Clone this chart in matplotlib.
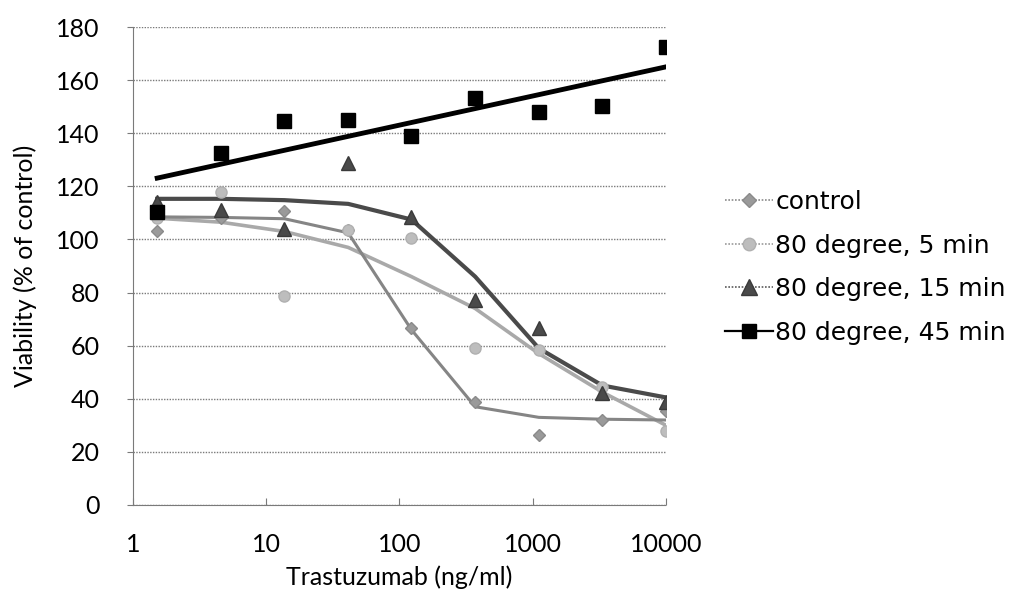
import matplotlib.pyplot as plt
import numpy as np

# concentrations (ng/ml), 3-fold dilutions
conc = [1.52, 4.57, 13.7, 41.2, 123, 370, 1111, 3333, 10000]

# measured viability (% of control)
control = [103, 108, 110.7, 103.5, 66.7, 38.8, 26.4, 32.0, 35.5]
deg80_5 = [108, 118, 78.7, 103.6, 100.5, 59.0, 58.4, 44.5, 28.0]
deg80_15 = [114, 111, 103.8, 128.8, 108.5, 77.2, 66.7, 42.2, 38.8]
deg80_45 = [110.4, 132.5, 144.7, 145.0, 139.0, 153.3, 148.0, 150.3, 172.5]

# fitted curves
fit_control = [108.5, 108.3, 107.8, 102.5, 66.0, 37.0, 33.0, 32.3, 32.0]
fit_5 = [108, 106.5, 103, 97, 86, 74, 57, 42.5, 30]
fit_15 = [115.3, 115.3, 114.8, 113.4, 107.5, 86, 59, 45, 40.5]
fit_45_x = [1.52, 10000]
fit_45 = [123.1, 165.0]

plt.rcParams['font.family'] = ['Lato', 'DejaVu Sans']

fig = plt.figure(figsize=(10.26, 5.9), dpi=100)
ax = fig.add_axes([0.1296, 0.1441, 0.5195, 0.8101])

ax.set_xscale('log')
ax.set_xlim(1, 10000)
ax.set_ylim(0, 180)

# grid
ax.set_yticks(np.arange(0, 181, 20))
ax.grid(axis='y', color='#7a7a7a', linestyle=(0, (1, 1)), linewidth=1.0)
ax.set_axisbelow(True)

# fitted lines
ax.plot(conc, fit_5, color='#a9a9a9', lw=2.6, zorder=2)
ax.plot(conc, fit_control, color='#858585', lw=2.2, zorder=2)
ax.plot(conc, fit_15, color='#4a4a4a', lw=3.0, zorder=2)
ax.plot(fit_45_x, fit_45, color='black', lw=3.5, zorder=2)

# data markers
ax.plot(conc, control, ls='none', marker='D', ms=6.5, color='#9a9a9a',
        mec='#8a8a8a', zorder=3)
ax.plot(conc, deg80_5, ls='none', marker='o', ms=8, color='#bdbdbd',
        mec='#b0b0b0', zorder=3)
ax.plot(conc, deg80_15, ls='none', marker='^', ms=9.5, color='#4a4a4a',
        mec='#3a3a3a', zorder=4)
ax.plot(conc, deg80_45, ls='none', marker='s', ms=9.5, color='black', zorder=4)

# legend handles
h1, = ax.plot([], [], color='#8a8a8a', ls=(0, (1, 1)), lw=1.2, marker='D',
              ms=7, mfc='#9a9a9a', mec='#8a8a8a')
h2, = ax.plot([], [], color='#9a9a9a', ls=(0, (1, 1)), lw=1.2, marker='o',
              ms=9, mfc='#bdbdbd', mec='#b0b0b0')
h3, = ax.plot([], [], color='#5a5a5a', ls=(0, (1, 1)), lw=1.2, marker='^',
              ms=11, mfc='#4a4a4a', mec='#3a3a3a')
h4, = ax.plot([], [], color='black', lw=1.6, marker='s', ms=10, mfc='black')
leg = fig.legend([h1, h2, h3, h4],
                 ['control', '80 degree, 5 min', '80 degree, 15 min',
                  '80 degree, 45 min'],
                 loc='center left', bbox_to_anchor=(0.685, 0.547),
                 frameon=False, handlelength=1.9,
                 handletextpad=0.1, labelspacing=0.78,
                 prop={'family': ['DejaVu Sans'], 'size': 18})

# spines
for s in ['top', 'right']:
    ax.spines[s].set_visible(False)
ax.spines['left'].set_color('#7a7a7a')
ax.spines['left'].set_linestyle((0, (1, 1)))
ax.spines['bottom'].set_color('#7a7a7a')
ax.spines['bottom'].set_linestyle((0, (1, 1)))

ax.set_xticks([1, 10, 100, 1000, 10000])
ax.set_xticklabels(['1', '10', '100', '1000', '10000'])
ax.minorticks_off()
ax.tick_params(axis='x', direction='in', length=5, color='#7a7a7a',
               labelsize=18, pad=20)
ax.tick_params(axis='y', direction='out', length=4, color='#7a7a7a',
               labelsize=18, pad=20)

ax.set_xlabel('Trastuzumab (ng/ml)', fontsize=18, labelpad=7)
ax.set_ylabel('Viability (% of control)', fontsize=18, labelpad=14)

plt.savefig('out.png', dpi=100)
